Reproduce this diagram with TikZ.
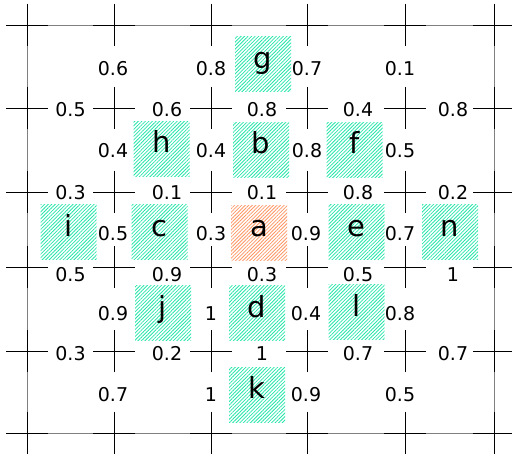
\documentclass[tikz,border=0pt]{standalone}
\usepackage{fontspec}
\setmainfont{DejaVu Sans}
\usetikzlibrary{patterns.meta}
\definecolor{hatchgreen}{RGB}{40,230,170}
\definecolor{hatchorange}{RGB}{255,150,100}
\tikzset{
  crossline/.style={black, line width=0.85pt},
  frameline/.style={black!50, line width=0.75pt},
  cellbox/.style={minimum width=56pt, minimum height=55pt, inner sep=0pt,
    text height=0.76em, text depth=0pt,
    font=\fontsize{29}{34}\selectfont,
    pattern={Lines[angle=45,distance=2.5pt,line width=0.8pt]}, pattern color=hatchgreen},
  startbox/.style={cellbox, pattern color=hatchorange},
  weight/.style={inner sep=0pt, font=\fontsize{19}{23}\selectfont}
}
\begin{document}
\begin{tikzpicture}[x=1pt,y=-1pt]
\useasboundingbox (0,0) rectangle (512,454);
% outer frame
\draw[frameline] (6,25) -- (515,25);
\draw[frameline] (6,433) -- (515,433);
\draw[frameline] (27,4) -- (27,454);
\draw[frameline] (494,4) -- (494,454);
% crosses at every vertex
\foreach \gx in {27,114,211,307,405,494}
  \foreach \gy in {25,108,192,267,351,433}
    \draw[crossline] (\gx-21,\gy) -- (\gx+21,\gy) (\gx,\gy-21) -- (\gx,\gy+21);
% cells
\node[cellbox] (g) at (263,64.5) {g};
\node[cellbox] (h) at (161.5,149) {h};
\node[cellbox] (b) at (261,150) {b};
\node[cellbox] (f) at (354.5,150) {f};
\node[cellbox] (i) at (68.5,232.5) {i};
\node[cellbox] (c) at (159.5,232.5) {c};
\node[startbox] (a) at (259,233) {a};
\node[cellbox] (e) at (356.5,232.5) {e};
\node[cellbox] (n) at (450,232.5) {n};
\node[cellbox] (j) at (163,313.5) {j};
\node[cellbox] (d) at (257,313.5) {d};
\node[cellbox] (l) at (356.5,312.5) {l};
\node[cellbox] (k) at (257,395) {k};
% weights on vertical boundaries
\node[weight] (v11) at (113,69) {0.6};
\node[weight] (v12) at (211,69) {0.8};
\node[weight] (v13) at (307,69) {0.7};
\node[weight] (v14) at (400,69) {0.1};
\node[weight] (v21) at (113,151) {0.4};
\node[weight] (v22) at (211,151) {0.4};
\node[weight] (v23) at (307,151) {0.8};
\node[weight] (v24) at (400,151) {0.5};
\node[weight] (v31) at (113,234) {0.5};
\node[weight] (v32) at (211,234) {0.3};
\node[weight] (v33) at (306,234) {0.9};
\node[weight] (v34) at (400,234) {0.7};
\node[weight] (v41) at (113,313.5) {0.9};
\node[weight] (v42) at (211,313.5) {1};
\node[weight] (v43) at (306,313.5) {0.4};
\node[weight] (v44) at (400,313.5) {0.8};
\node[weight] (v51) at (113,395) {0.7};
\node[weight] (v52) at (211,395) {1};
\node[weight] (v53) at (306,395) {0.9};
\node[weight] (v54) at (400,395) {0.5};
% weights on horizontal boundaries
\node[weight] (h11) at (70.5,110) {0.5};
\node[weight] (h12) at (167,110) {0.6};
\node[weight] (h13) at (262,110) {0.8};
\node[weight] (h14) at (358,110) {0.4};
\node[weight] (h15) at (453,110) {0.8};
\node[weight] (h21) at (70.5,192.5) {0.3};
\node[weight] (h22) at (167,192.5) {0.1};
\node[weight] (h23) at (262,192.5) {0.1};
\node[weight] (h24) at (358,192.5) {0.8};
\node[weight] (h25) at (453,192.5) {0.2};
\node[weight] (h31) at (70.5,274.5) {0.5};
\node[weight] (h32) at (167,274.5) {0.9};
\node[weight] (h33) at (262,274.5) {0.3};
\node[weight] (h34) at (358,274.5) {0.5};
\node[weight] (h35) at (453,274.5) {1};
\node[weight] (h41) at (70.5,353.5) {0.3};
\node[weight] (h42) at (167,353.5) {0.2};
\node[weight] (h43) at (262,353.5) {1};
\node[weight] (h44) at (358,353.5) {0.7};
\node[weight] (h45) at (453,353.5) {0.7};
\end{tikzpicture}
\end{document}
